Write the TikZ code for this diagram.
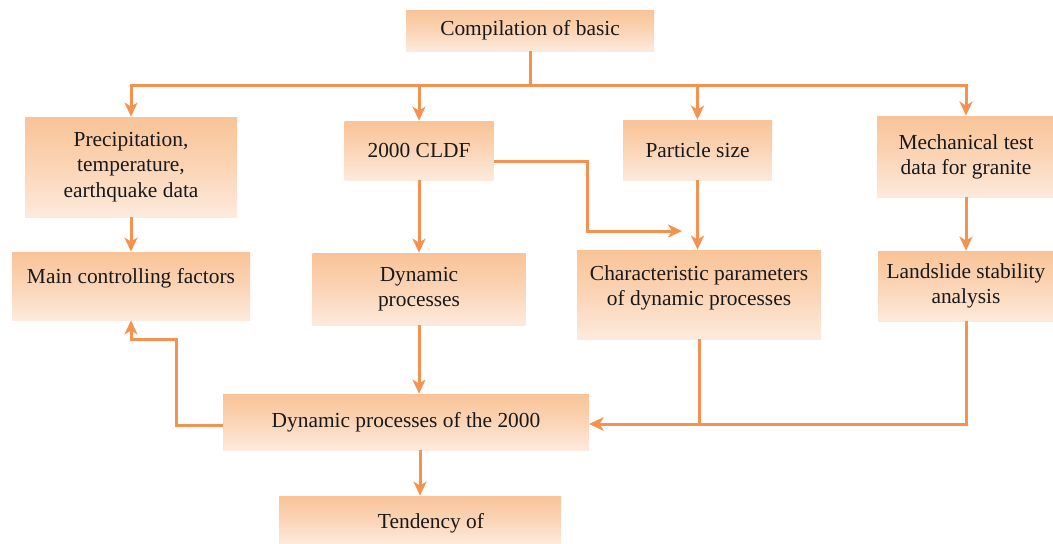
\documentclass[tikz,border=0pt]{standalone}
\usepackage{fontspec}
\setmainfont{Liberation Serif}
\usepackage{tikz}
\usetikzlibrary{arrows.meta, calc, positioning}
\definecolor{boxtop}{HTML}{F9C397}
\definecolor{boxbottom}{HTML}{FDEADD}
\definecolor{linkcol}{HTML}{F5924F}
\tikzstyle{block} = [rectangle, inner sep=0pt, top color=boxtop, bottom color=boxbottom, middle color=boxtop!55!boxbottom, align=center, font=\fontsize{10.7pt}{12.6pt}\selectfont, text=black!90]
\tikzstyle{line} = [draw=linkcol, line width=1.5pt]
\tikzstyle{arrow} = [line, -{Stealth[length=7pt, width=6.5pt, inset=2pt]}]

\begin{document}
\begin{tikzpicture}[x=0.5pt, y=-0.5pt]
	\useasboundingbox (0,0) rectangle (1053,543);
	\node (Basic) [block, minimum width=124pt, minimum height=20.5pt] at (530,30.5) {Compilation of basic};
	\node (Precip) [block, minimum width=106pt, minimum height=50pt] at (131,167) {Precipitation,\\temperature,\\earthquake data};
	\node (MainFac) [block, minimum width=119pt, minimum height=34pt, text depth=10pt] at (131,286) {Main controlling factors};
	\node (CLDF) [block, minimum width=74.5pt, minimum height=29.5pt] at (419,150.5) {2000 CLDF};
	\node (DynProc) [block, minimum width=106.5pt, minimum height=36pt] at (419,289) {Dynamic\\processes};
	\node (Particle) [block, minimum width=74.5pt, minimum height=30pt] at (697.5,150) {Particle size};
	\node (CharPar) [block, minimum width=122pt, minimum height=44.5pt, text depth=9.3pt] at (699,294.5) {Characteristic parameters\\of dynamic processes};
	\node (Mech) [block, minimum width=89pt, minimum height=40.5pt] at (966,156.5) {Mechanical test\\data for granite};
	\node (Landslide) [block, minimum width=88pt, minimum height=35pt] at (966,286) {Landslide stability\\analysis};
	\node (Dyn2000) [block, minimum width=183pt, minimum height=28pt] at (406,422) {Dynamic processes of the 2000};
	\node (Tendency) [block, minimum width=141pt, minimum height=24pt, text height=10.3pt] at (420,520) {\hspace*{11pt}Tendency of};
	\coordinate (Bus) at (530,85);
	\coordinate (CharIn) at (682,231);
	% links from the top box
	\draw [line] (Basic.south) -- (Bus);
	\foreach \n in {Precip, CLDF, Particle, Mech}
		\draw [arrow] (Bus) -| (\n.north);
	\draw [arrow] (Precip.south) -- (MainFac.north);
	\draw [arrow] (CLDF.south) -- (DynProc.north);
	\draw [arrow] ([yshift=-5.25pt]CLDF.east) -- ++(94,0) |- (CharIn);
	\draw [arrow] (Particle.south) -- (Particle.south |- CharPar.north);
	\draw [arrow] (Mech.south) -- (Mech.south |- Landslide.north);
	% links into the lower box
	\draw [arrow] (DynProc.south) -- (DynProc.south |- Dyn2000.north);
	\draw [arrow] (CharPar.south) |- ([yshift=-1pt]Dyn2000.east);
	\draw [arrow] (Landslide.south) |- ([yshift=-1pt]Dyn2000.east);
	\draw [arrow] ([yshift=-1.5pt]Dyn2000.west) -- ++(-46,0) |- ([yshift=-9.5pt]MainFac.south) -- (MainFac.south);
	\draw [arrow] (Tendency.north |- Dyn2000.south) -- (Tendency.north);
\end{tikzpicture}
\end{document}
